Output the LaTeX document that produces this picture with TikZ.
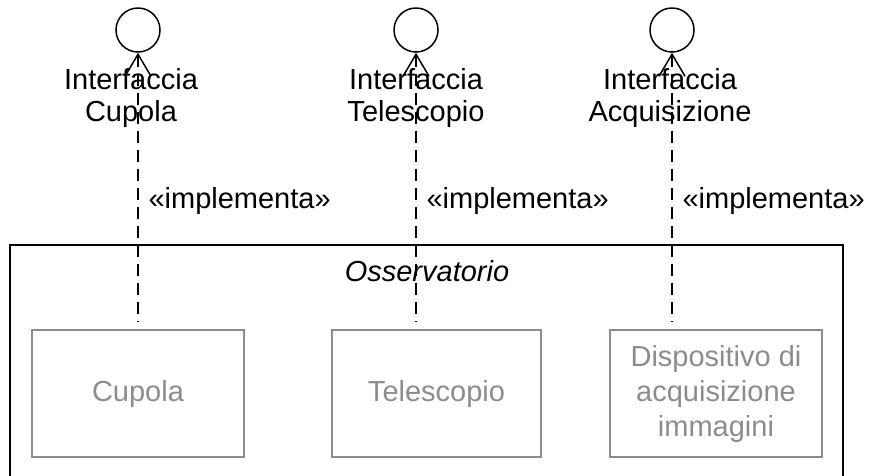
\documentclass[tikz,border=0pt]{standalone}
\usepackage{fontspec}
\setmainfont{Liberation Sans}
\usetikzlibrary{arrows.meta}
\tikzset{
  iface/.style={draw, circle, line width=1.5pt, minimum size=44pt, inner sep=0pt},
  ifacelabel/.style={align=center, font=\fontsize{29}{32}\selectfont},
  stereo/.style={anchor=west, font=\fontsize{29}{32}\selectfont},
  realize/.style={line width=1.5pt, dash pattern=on 12pt off 7pt,
    {Straight Barb[length=22pt,width=26pt,line width=1.5pt]}-, shorten >=8pt},
  compbox/.style={draw=black!45, line width=1.5pt, text=black!45, align=center,
    font=\fontsize{29}{35}\selectfont}
}
\begin{document}
\begin{tikzpicture}[x=1pt,y=-1pt]
\useasboundingbox (0,0) rectangle (869,475);
\clip (0,0) rectangle (869,475);
%%% the three interfaces on top
\node[iface] (iCup) at (138,30) {};
\node[iface] (iTel) at (416,30) {};
\node[iface] (iAcq) at (672,30) {};
\node[ifacelabel] (lCup) at (131,98) {Interfaccia\\Cupola};
\node[ifacelabel] (lTel) at (416,98) {Interfaccia\\Telescopio};
\node[ifacelabel] (lAcq) at (670,98) {Interfaccia\\Acquisizione};
%%% the container
\draw[line width=1.5pt] (10,245) rectangle (843,500);
\node[font=\fontsize{29}{32}\selectfont\itshape] (oss) at (427,271) {Osservatorio};
%%% the components inside
\node[compbox, minimum width=212pt, minimum height=127pt] (cup) at (138,393.5) {Cupola};
\node[compbox, minimum width=209pt, minimum height=127pt] (tel) at (436.5,393.5) {Telescopio};
\node[compbox, minimum width=212pt, minimum height=127pt] (acq) at (716,393.5) {Dispositivo di\\acquisizione\\immagini};
%%% realizations
\draw[realize] (iCup.south) -- (iCup.south |- cup.north);
\draw[realize] (iTel.south) -- (iTel.south |- tel.north);
\draw[realize] (iAcq.south) -- (iAcq.south |- acq.north);
\node[stereo] (sCup) at (145,201) {«implementa»};
\node[stereo] (sTel) at (423,201) {«implementa»};
\node[stereo] (sAcq) at (679,201) {«implementa»};
\end{tikzpicture}
\end{document}
